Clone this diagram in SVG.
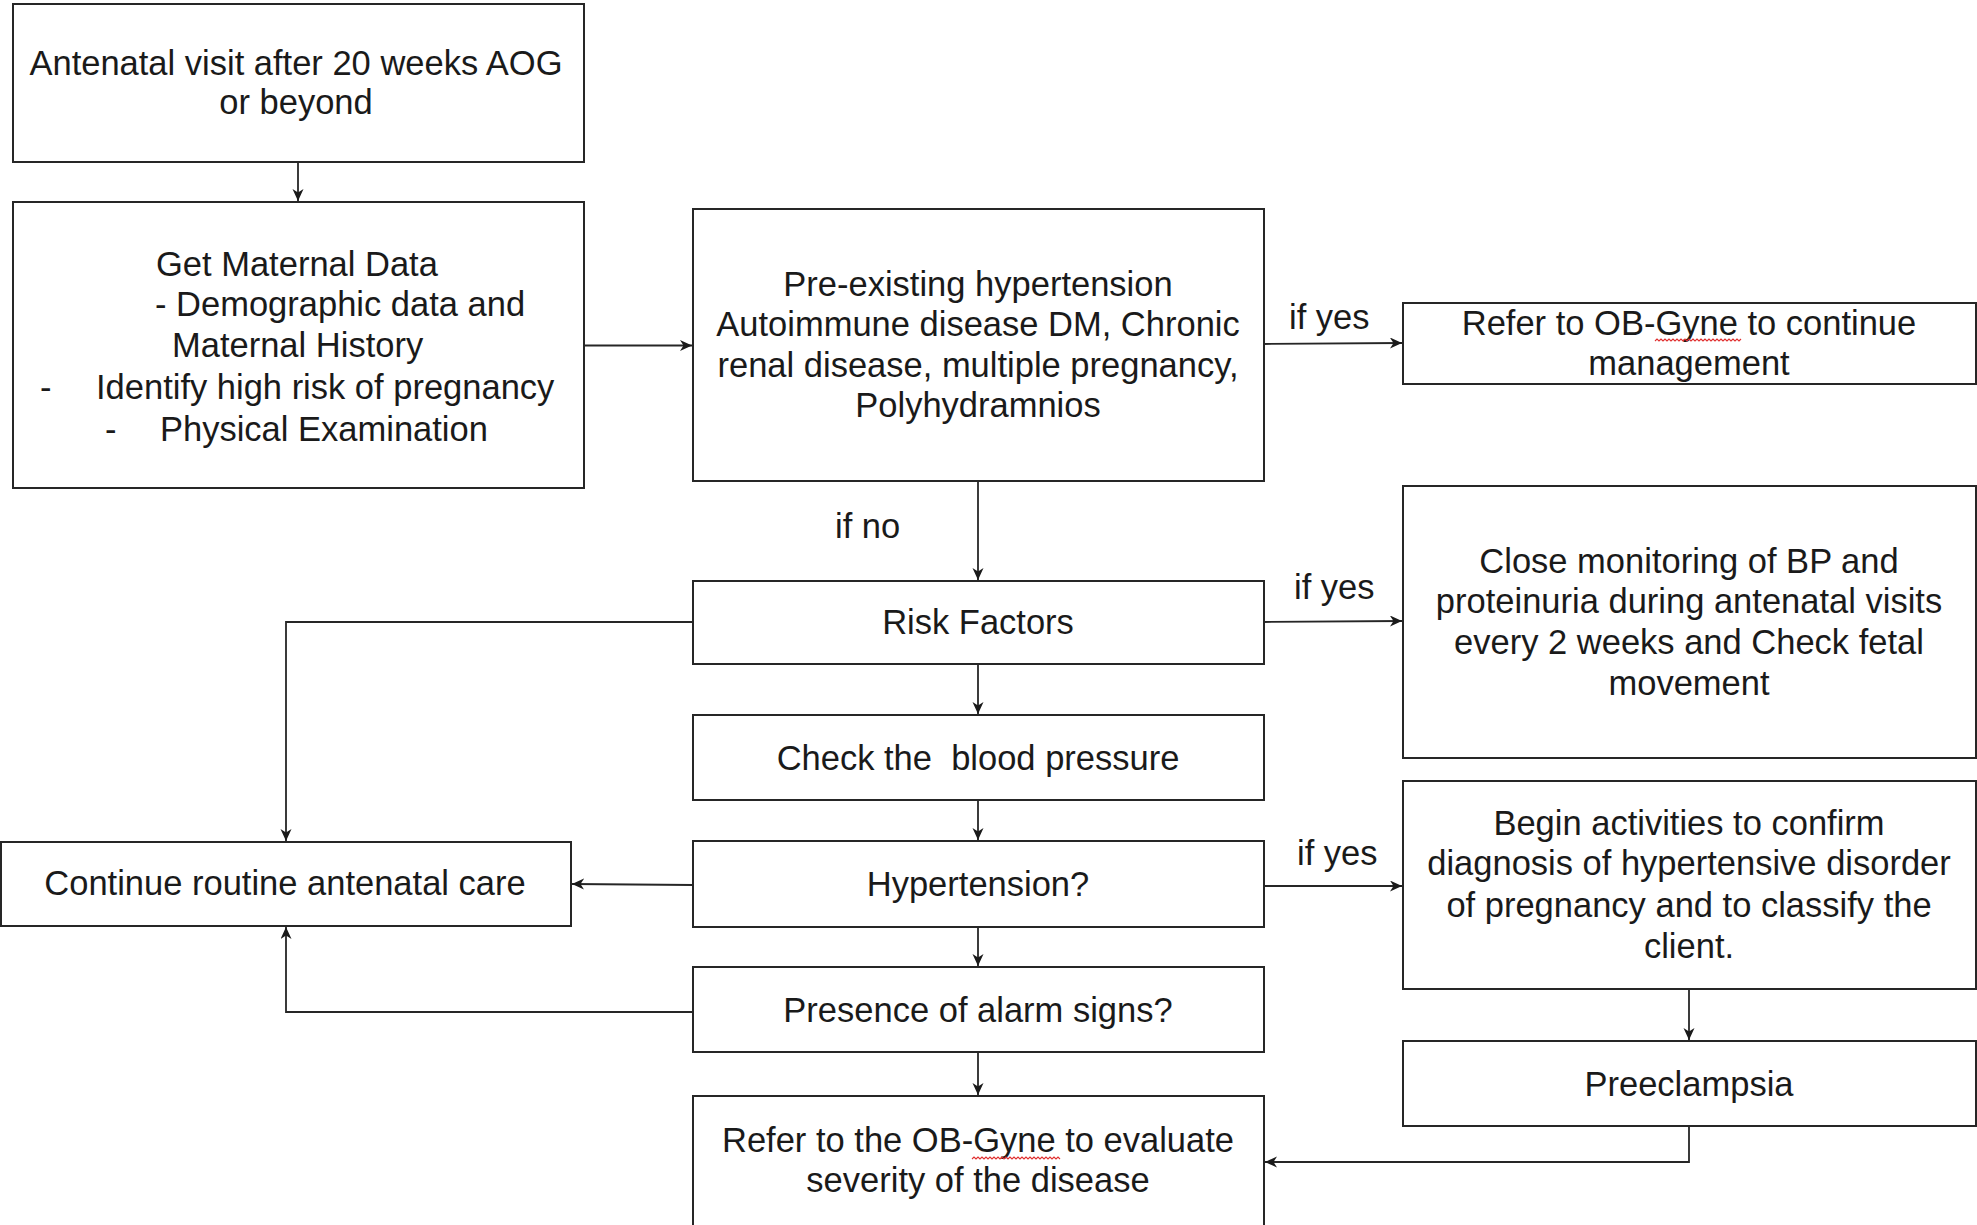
<svg xmlns="http://www.w3.org/2000/svg" width="1977" height="1225" viewBox="0 0 1977 1225">
<style>
.box{fill:#fff;stroke:#262626;stroke-width:2}
.t{font-family:"Liberation Sans",Arial,sans-serif;font-size:34.5px;fill:#1a1a1a}
.c{text-anchor:middle}
.con{fill:none;stroke:#262626;stroke-width:1.8}
.sq{fill:none;stroke:#e03030;stroke-width:1.1}
</style>
<defs>
<marker id="ah" markerUnits="userSpaceOnUse" markerWidth="14" markerHeight="12" refX="12" refY="5.5" orient="auto">
<path d="M0,0 L12,5.5 L0,11 L3.5,5.5 Z" fill="#1a1a1a"/>
</marker>
</defs>
<rect width="1977" height="1225" fill="#fff"/>

<g id="connectors">
<line class="con" x1="298" y1="162" x2="298" y2="201" marker-end="url(#ah)"/>
<line class="con" x1="584" y1="345.5" x2="692" y2="345.5" marker-end="url(#ah)"/>
<line class="con" x1="1264" y1="344" x2="1402" y2="343" marker-end="url(#ah)"/>
<line class="con" x1="978" y1="481" x2="978" y2="580" marker-end="url(#ah)"/>
<line class="con" x1="1264" y1="622" x2="1402" y2="621" marker-end="url(#ah)"/>
<polyline class="con" points="693,622 286,622 286,841" marker-end="url(#ah)"/>
<line class="con" x1="978" y1="664" x2="978" y2="714" marker-end="url(#ah)"/>
<line class="con" x1="978" y1="800" x2="978" y2="840" marker-end="url(#ah)"/>
<line class="con" x1="1264" y1="886" x2="1402" y2="886" marker-end="url(#ah)"/>
<line class="con" x1="693" y1="885" x2="572" y2="884" marker-end="url(#ah)"/>
<line class="con" x1="978" y1="927" x2="978" y2="966" marker-end="url(#ah)"/>
<polyline class="con" points="693,1012 286,1012 286,927" marker-end="url(#ah)"/>
<line class="con" x1="978" y1="1052" x2="978" y2="1095" marker-end="url(#ah)"/>
<line class="con" x1="1689" y1="989" x2="1689" y2="1040" marker-end="url(#ah)"/>
<polyline class="con" points="1689,1126 1689,1162 1265,1162" marker-end="url(#ah)"/>
<text class="t" x="1289" y="329">if yes</text>
<text class="t" x="835" y="538">if no</text>
<text class="t" x="1294" y="599">if yes</text>
<text class="t" x="1297" y="865">if yes</text>
</g>

<g id="n-antenatal">
<rect class="box" x="13" y="4" width="571" height="158"/>
<text class="t c" x="296" y="75">Antenatal visit after 20 weeks AOG</text>
<text class="t c" x="296" y="114">or beyond</text>
</g>

<g id="n-maternal-data">
<rect class="box" x="13" y="202" width="571" height="286"/>
<text class="t" x="156" y="276">Get Maternal Data</text>
<text class="t" x="155" y="316">- Demographic data and</text>
<text class="t" x="172" y="357">Maternal History</text>
<text class="t" x="40" y="399">-</text>
<text class="t" x="96" y="399">Identify high risk of pregnancy</text>
<text class="t" x="105" y="441">-</text>
<text class="t" x="160" y="441">Physical Examination</text>
</g>

<g id="n-preexisting">
<rect class="box" x="693" y="209" width="571" height="272"/>
<text class="t c" x="978" y="296">Pre-existing hypertension</text>
<text class="t c" x="978" y="336">Autoimmune disease DM, Chronic</text>
<text class="t c" x="978" y="377">renal disease, multiple pregnancy,</text>
<text class="t c" x="978" y="417">Polyhydramnios</text>
</g>

<g id="n-refer-continue">
<rect class="box" x="1403" y="303" width="573" height="81"/>
<text class="t c" x="1689" y="335">Refer to OB-Gyne to continue</text>
<text class="t c" x="1689" y="375">management</text>
<path class="sq" d="M1655,341 l2,-2 l2,2 l2,-2 l2,2 l2,-2 l2,2 l2,-2 l2,2 l2,-2 l2,2 l2,-2 l2,2 l2,-2 l2,2 l2,-2 l2,2 l2,-2 l2,2 l2,-2 l2,2 l2,-2 l2,2 l2,-2 l2,2 l2,-2 l2,2 l2,-2 l2,2 l2,-2 l2,2 l2,-2 l2,2 l2,-2 l2,2 l2,-2 l2,2 l2,-2 l2,2 l2,-2 l2,2 l2,-2 l2,2 l2,-2"/>
</g>

<g id="n-risk">
<rect class="box" x="693" y="581" width="571" height="83"/>
<text class="t c" x="978" y="634">Risk Factors</text>
</g>

<g id="n-close-monitoring">
<rect class="box" x="1403" y="486" width="573" height="272"/>
<text class="t c" x="1689" y="573">Close monitoring of BP and</text>
<text class="t c" x="1689" y="613">proteinuria during antenatal visits</text>
<text class="t c" x="1689" y="654">every 2 weeks and Check fetal</text>
<text class="t c" x="1689" y="695">movement</text>
</g>

<g id="n-check-bp">
<rect class="box" x="693" y="715" width="571" height="85"/>
<text class="t c" x="978" y="770" style="white-space:pre">Check the  blood pressure</text>
</g>

<g id="n-routine">
<rect class="box" x="1" y="842" width="570" height="84"/>
<text class="t c" x="285" y="895">Continue routine antenatal care</text>
</g>

<g id="n-hypertension">
<rect class="box" x="693" y="841" width="571" height="86"/>
<text class="t c" x="978" y="896">Hypertension?</text>
</g>

<g id="n-begin">
<rect class="box" x="1403" y="781" width="573" height="208"/>
<text class="t c" x="1689" y="835">Begin activities to confirm</text>
<text class="t c" x="1689" y="875">diagnosis of hypertensive disorder</text>
<text class="t c" x="1689" y="917">of pregnancy and to classify the</text>
<text class="t c" x="1689" y="958">client.</text>
</g>

<g id="n-alarm">
<rect class="box" x="693" y="967" width="571" height="85"/>
<text class="t c" x="978" y="1022">Presence of alarm signs?</text>
</g>

<g id="n-preeclampsia">
<rect class="box" x="1403" y="1041" width="573" height="85"/>
<text class="t c" x="1689" y="1096">Preeclampsia</text>
</g>

<g id="n-refer-evaluate">
<rect class="box" x="693" y="1096" width="571" height="150"/>
<text class="t c" x="978" y="1152">Refer to the OB-Gyne to evaluate</text>
<text class="t c" x="978" y="1192">severity of the disease</text>
<path class="sq" d="M972,1159 l2,-2 l2,2 l2,-2 l2,2 l2,-2 l2,2 l2,-2 l2,2 l2,-2 l2,2 l2,-2 l2,2 l2,-2 l2,2 l2,-2 l2,2 l2,-2 l2,2 l2,-2 l2,2 l2,-2 l2,2 l2,-2 l2,2 l2,-2 l2,2 l2,-2 l2,2 l2,-2 l2,2 l2,-2 l2,2 l2,-2 l2,2 l2,-2 l2,2 l2,-2 l2,2 l2,-2 l2,2 l2,-2 l2,2 l2,-2 l2,2"/>
</g>
</svg>
